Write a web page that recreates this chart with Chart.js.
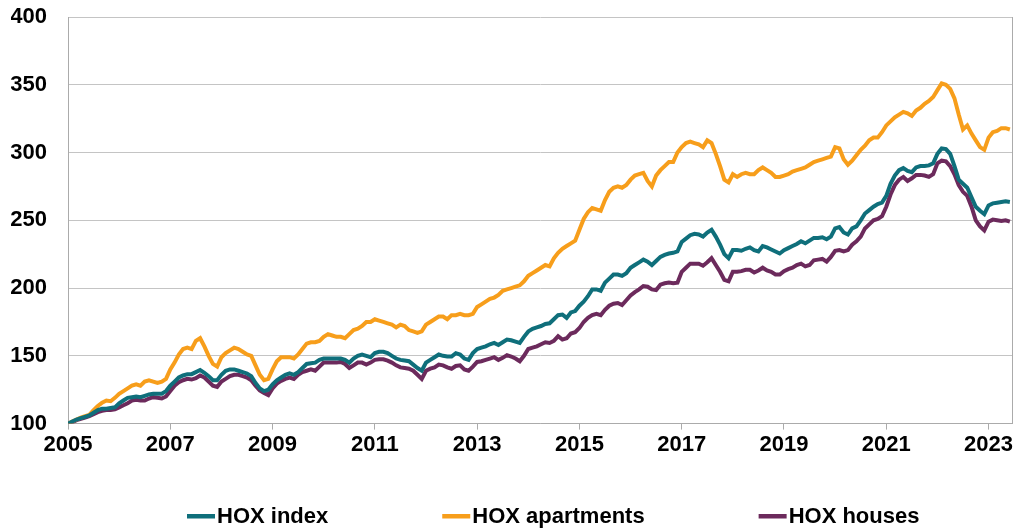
<!DOCTYPE html>
<html>
<head>
<meta charset="utf-8">
<script src="https://cdn.jsdelivr.net/npm/chart.js@4"></script>
<style>
  html, body { margin: 0; padding: 0; background: #fff; }
</style>
</head>
<body>
<canvas id="hoxChart" width="1030" height="532"></canvas>
<script>
// monthly values, first point = Jan 2005 (index 100)
const startYear = 2005;

const hoxIndex = [
  100,101.5,103,104,105,106,108,110,111,111,111.5,112,
  115,117,119,119.5,120,119.5,120.5,121.5,122,122,122,124,
  128,131,134,135.5,136.5,136.5,138,139.5,137.5,135,132,132,
  136,139,140,140,139,138,137,135,130,126,124,125,
  129,132,134,136,137,136,138,141,144,144.5,145,147,
  148,148,148,148,148,147,145,148,150,151,150,149,
  152,153,153,152,150,148,147,146.5,146,143.5,141,139,
  145,147,149,151,150,149.5,149.5,152,151,148,147,152,
  155,156,157,158.5,159.5,158,160,162,161.5,160.5,159.5,164,
  168,170,171,172,173.5,174,177,180,180.5,178,182,183,
  187,190,194,199,199,198,204,207,210,210,209,211,
  215,217,219,221,219.5,217,220,223,224.5,225.5,226,227,
  234,236.5,239,240,239.5,238,241,243,238,232,225,222,
  228,228,227.5,229,230,228,227,231,230,228.5,227,225.5,
  228,229.5,231,232.5,234.5,233,235,237,237,237.5,236,238,
  244,245,241,239.5,244,245.5,250,255,257.5,260,262,263,
  268,277,283,287,288.5,286.5,285.5,289,290,290,290.5,292,
  299,303,302.5,299,290,280,277,274,267,260,257,254.5,
  261,262.5,263,263.5,264,263.5
];

const hoxApartments = [
  100,101.5,103,104.5,105.5,106.5,110,113,115.5,117,116.5,119,
  122,124,126,128,129,128,131,132,131,130,131,133,
  140,145,151,155,156,155,161,163,157,150,144,142,
  149,152,154,156,155,153,151,150,143,136,132,133,
  140,146,149,149,149,148,151,155,159,160,160,161,
  164,166,165,164,164,163,166,169,170,172,175,175,
  177,176,175,174,173,171,173,172,169,168,167,168,
  173,175,177,179,179,177,180,180,181,180,180,181,
  186,188,190,192,193,195,198,199,200,201,202,205,
  209,211,213,215,217,216,222,226,229,231,233,235,
  243,251,256,259,258,257,265,271,274,275,274,276,
  280,283,284,285,279,275,283,287,290,293,293,300,
  304,307,308,307,306,304,309,307,299,290,280,278,
  284,282,284,285,284,284,287,289,287,285,282,282,
  283,284,286,287,288,289,291,293,294,295,296,297,
  304,303,295,291,294,298,302,305,309,311,311,315,
  320,323,326,328,330,329,327,331,333,336,338,341,
  346,351,350,347,340,328,317,320,314,309,304,302,
  311,315,316,318,318,317
];

const hoxHouses = [
  100,101,102.5,103.5,104.5,105.5,107,108.5,109.5,110,110,110.5,
  112,113.5,115,117,117.5,117,117,118.5,119.5,119,118.5,120,
  124,128,130.5,132,133,132.5,133.5,135.5,134,131,128,127,
  131,133,135,136,136,135,134,132,128,124.5,122.5,121,
  126,129.5,131.5,133,134,133,136,138,139,140,139,142,
  145,145,145,145,145.5,144,141,143,145,145,143.5,145,
  147,147.5,147.5,146.5,145,143,141.5,141,140.5,139,136,133,
  139,140.5,141.5,143.5,143,141.5,140.5,142.5,143,140,139,142,
  145.5,146,147,148,149,147,148.5,150.5,149.5,148,146,150,
  155,156,157,158.5,160,159.5,161,164.5,162,163,166.5,167.5,
  170.5,175,178,180,181,180,184,187,188.5,189,187.5,191,
  194.5,197,199,201.5,201,199,198.5,202.5,203.5,204,203.5,204,
  212,215,218,218,218,216.5,219,222,217,212,206,205,
  212,212,212.5,213.5,213.5,211.5,213,215,213,212,210,210,
  212.5,214,215,217,218,216,217,220.5,221,221.5,219.5,223,
  227.5,228,227,228,232,234.5,238,244,247,250,251,253,
  260,269,276,280,282,279,281,283.5,283.5,283,282,284,
  292,294,293.5,290,284,276,271,268,260,250,245.5,242.5,
  249,250.5,250,249.5,250,249
];

const seriesLabels = ["HOX index", "HOX apartments", "HOX houses"];

const color = {
  Teal: "#0f6f7b",
  Orange: "#f79e1b",
  Purple: "#6c2a5c",
  Grid: "#c4c4c4",
  Axis: "#ababab",
};

const fontFamily = "'Liberation Sans', Arial, sans-serif";

function makeDataset(inputlabel, inputdata, lineColor) {
  return {
    label: inputlabel,
    data: inputdata.map((v, i) => ({ x: i, y: v })),
    backgroundColor: lineColor,
    borderColor: lineColor,
    borderWidth: 4,
    pointRadius: 0,
    tension: 0,
  };
}

// legend at the bottom, drawn by hand because the gaps are wide
const bottomLegend = {
  id: "bottomLegend",
  beforeDatasetsDraw(chart) {
    // right edge of the plot frame
    const { ctx, chartArea } = chart;
    ctx.save();
    ctx.strokeStyle = color.Axis;
    ctx.lineWidth = 1;
    ctx.beginPath();
    ctx.moveTo(chartArea.right + 0.5, chartArea.top);
    ctx.lineTo(chartArea.right + 0.5, chartArea.bottom);
    ctx.stroke();
    ctx.restore();
  },
  afterDraw(chart) {
    const ctx = chart.ctx;
    const y = 516, swatch = 28, gap = 114;
    ctx.save();
    ctx.font = "bold 22px " + fontFamily;
    ctx.textBaseline = "middle";
    let x = 187;
    chart.data.datasets.forEach((ds) => {
      ctx.fillStyle = ds.borderColor;
      ctx.fillRect(x, y - 2, swatch, 4.5);
      ctx.fillStyle = "#000";
      ctx.fillText(ds.label, x + swatch + 2, y + 1);
      x += swatch + 2 + ctx.measureText(ds.label).width + gap;
    });
    ctx.restore();
  },
};

Chart.defaults.font.family = fontFamily;
Chart.defaults.font.size = 22;
Chart.defaults.font.weight = "bold";
Chart.defaults.color = "#000";

const hoxChart = new Chart(document.getElementById("hoxChart"), {
  type: "line",
  data: {
    datasets: [
      makeDataset(seriesLabels[0], hoxIndex, color.Teal),
      makeDataset(seriesLabels[1], hoxApartments, color.Orange),
      makeDataset(seriesLabels[2], hoxHouses, color.Purple),
    ],
  },
  options: {
    responsive: false,
    animation: false,
    layout: { padding: { left: 11, right: 18, top: 17, bottom: 72 } },
    plugins: {
      legend: { display: false },
      tooltip: { enabled: false },
    },
    scales: {
      x: {
        type: "linear",
        min: 0,
        max: 221.5,
        grid: {
          drawOnChartArea: false,
          tickLength: 6,
          color: color.Axis,
        },
        border: { color: color.Axis },
        ticks: {
          stepSize: 24,
          includeBounds: false,
          maxRotation: 0,
          padding: 2,
          callback: (v) => String(startYear + v / 12),
        },
      },
      y: {
        min: 100,
        max: 400,
        grid: { color: color.Grid, drawTicks: false },
        border: { color: color.Axis },
        ticks: { stepSize: 50, padding: 21 },
        afterFit: (scale) => {
          scale.width = 57;
          scale.paddingTop = 0;
          scale.paddingBottom = 0;
        },
      },
    },
  },
  plugins: [bottomLegend],
});
</script>
</body>
</html>
